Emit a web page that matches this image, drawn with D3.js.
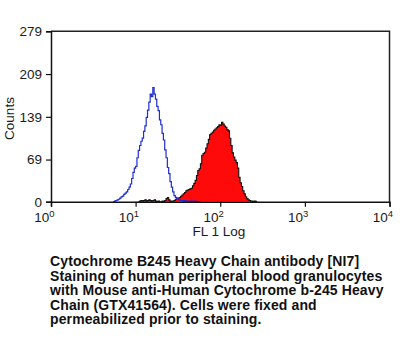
<!DOCTYPE html>
<html>
<head>
<meta charset="utf-8">
<script src="https://cdn.jsdelivr.net/npm/d3@7"></script>
<style>
  html, body { margin: 0; padding: 0; background: #fff; }
  svg { display: block; }
  .axis text { font-family: "Liberation Sans", Arial, sans-serif; }
</style>
</head>
<body>
<svg id="chart" width="400" height="338"></svg>
<script>
// FL1 histograms on a 256-channel, 4-decade log scale
const CHANNELS = 256;
const DECADES = 4;

// Isotype control (open blue histogram), counts per channel from blueStart
const blueStart = 47;
const blueCounts = [
  0, 1, 2, 3, 4, 6, 8, 9, 12, 14, 16, 20, 24, 29, 38, 48, 55, 58, 72, 84,
  92, 99, 104, 115, 124, 138, 150, 163, 176, 172, 187, 176, 168, 156, 149, 134, 126, 112, 101, 85,
  72, 56, 46, 33, 24, 16, 10, 7, 5, 4, 3, 2, 2, 1, 2, 1, 1, 1, 0, 1,
  1, 0, 1, 0, 0, 0
];

// Stained sample (filled red histogram), counts per channel from stainedStart
const stainedStart = 66;
const stainedCounts = [
  0, 1, 2, 1, 2, 3, 1, 2, 3, 2, 1, 2, 3, 1, 0, 1, 0, 0, 1, 0,
  2, 5, 7, 3, 1, 1, 1, 2, 4, 6, 6, 7, 9, 11, 13, 15, 18, 19, 20, 21,
  22, 26, 30, 35, 43, 51, 54, 62, 76, 79, 81, 88, 95, 102, 110, 112, 114, 117, 119, 121,
  123, 126, 125, 130, 127, 124, 122, 118, 116, 104, 92, 80, 73, 68, 64, 55, 40, 31, 25, 18,
  13, 8, 5, 3, 2, 1, 1, 0, 1, 0
];

const yTicks = [0, 69, 139, 209, 279];
const xTicks = [1, 10, 100, 1000, 10000];
const xTickExponents = ["0", "1", "2", "3", "4"];
const yLabel = "Counts";
const xLabel = "FL 1 Log";
const captionLines = [
  "Cytochrome B245 Heavy Chain antibody [NI7]",
  "Staining of human peripheral blood granulocytes",
  "with Mouse anti-Human Cytochrome b-245 Heavy",
  "Chain (GTX41564). Cells were fixed and",
  "permeabilized prior to staining."
];

const svg = d3.select("#chart");
const plot = { left: 51, right: 389.5, top: 31.3, bottom: 201.7 };

const x = d3.scaleLog().domain([1, 10000]).range([plot.left, plot.right]);
const y = d3.scaleLinear().domain([0, 279]).range([plot.bottom, plot.top]);

// channel index -> FL1 value at the channel's lower edge
const chanValue = c => Math.pow(10, DECADES * c / CHANNELS);

function toSteps(start, counts) {
  const pts = counts.map((n, i) => ({ v: chanValue(start + i), n }));
  pts.push({ v: chanValue(start + counts.length), n: 0 });
  return pts;
}

const bluePts = toSteps(blueStart, blueCounts);
const stainedPts = toSteps(stainedStart, stainedCounts);

const area = d3.area()
  .x(d => x(d.v)).y0(y(0)).y1(d => y(d.n))
  .curve(d3.curveStepAfter);
const line = d3.line()
  .x(d => x(d.v)).y(d => y(d.n))
  .curve(d3.curveStepAfter);

// filled stained histogram
svg.append("path").datum(stainedPts)
  .attr("d", area).attr("fill", "#ff0a0a");
svg.append("path").datum(stainedPts)
  .attr("d", line).attr("fill", "none")
  .attr("stroke", "#111").attr("stroke-width", 1.1);

// open control histogram
svg.append("path").datum(bluePts)
  .attr("d", line).attr("fill", "none")
  .attr("stroke", "#1f2fd0").attr("stroke-width", 1.2);

// frame: top and right edges
svg.append("path")
  .attr("d", `M${plot.left},${plot.top}H${plot.right}V${plot.bottom}`)
  .attr("fill", "none").attr("stroke", "#222").attr("stroke-width", 1.5);

// y axis
const yAxis = svg.append("g").attr("class", "axis")
  .attr("transform", `translate(${plot.left},0)`)
  .call(d3.axisLeft(y).tickValues(yTicks).tickSize(5).tickPadding(4).tickFormat(d3.format("d")));
yAxis.select(".domain").attr("stroke", "#111").attr("stroke-width", 1.5);
yAxis.selectAll(".tick line").attr("stroke", "#111").attr("stroke-width", 1.2);
yAxis.selectAll("text").attr("font-size", 13.5).attr("fill", "#1a1a1a");

// x axis
const xAxis = svg.append("g").attr("class", "axis")
  .attr("transform", `translate(0,${plot.bottom})`)
  .call(d3.axisBottom(x).tickValues(xTicks).tickSize(5).tickFormat(""));
xAxis.select(".domain").attr("stroke", "#111").attr("stroke-width", 1.5);
xAxis.selectAll(".tick line").attr("stroke", "#111").attr("stroke-width", 1.2);
xAxis.selectAll(".tick").each(function (d, i) {
  const t = d3.select(this).append("text")
    .attr("x", 3).attr("y", 20)
    .attr("text-anchor", "end")
    .attr("font-size", 13.5).attr("fill", "#1a1a1a");
  t.append("tspan").text("10");
  t.append("tspan").attr("dy", -5).attr("font-size", 9.5).text(xTickExponents[i]);
});

// axis titles
svg.append("text")
  .attr("transform", `translate(14,${(plot.top + plot.bottom) / 2 + 2}) rotate(-90)`)
  .attr("text-anchor", "middle")
  .attr("font-family", "Liberation Sans, Arial, sans-serif")
  .attr("font-size", 13.5).attr("fill", "#1a1a1a")
  .text(yLabel);

svg.append("text")
  .attr("x", 219).attr("y", 235.5)
  .attr("text-anchor", "middle")
  .attr("font-family", "Liberation Sans, Arial, sans-serif")
  .attr("font-size", 13.5).attr("fill", "#1a1a1a")
  .text(xLabel);

// caption
svg.append("g").selectAll("text").data(captionLines).join("text")
  .attr("x", 50).attr("y", (d, i) => 266 + i * 14.6)
  .attr("font-family", "Liberation Sans, Arial, sans-serif")
  .attr("font-weight", "bold")
  .attr("font-size", 14)
  .attr("letter-spacing", 0.12)
  .attr("fill", "#111")
  .text(d => d);
</script>
</body>
</html>
